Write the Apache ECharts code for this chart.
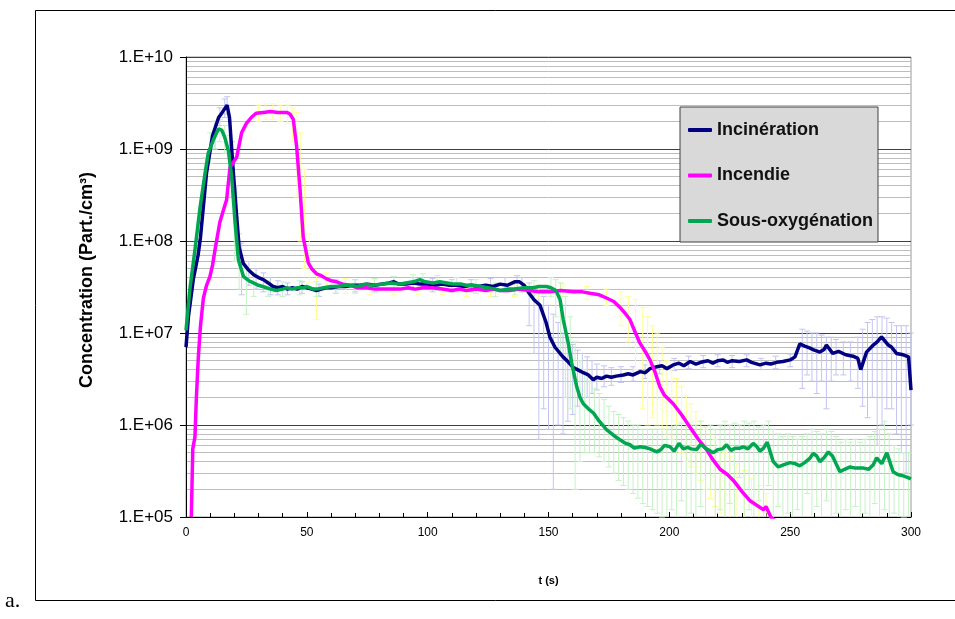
<!DOCTYPE html>
<html>
<head>
<meta charset="utf-8">
<script src="https://cdn.jsdelivr.net/npm/echarts@6/dist/echarts.min.js"></script>
<style>html,body{margin:0;padding:0;background:#fff}#c{width:955px;height:619px}</style>
</head>
<body>
<div id="c"></div>
<script>
// ---------- data ----------
const seriesNames = ['Incinération', 'Incendie', 'Sous-oxygénation'];
const xTicks = [0, 50, 100, 150, 200, 250, 300];
const yTicks = [1e5, 1e6, 1e7, 1e8, 1e9, 1e10];

const incinerationT = [0,1,3,5,6,8.5,11,13.5,15,17,18,19.5,21,22,23.7,26,28,30,32,34,36,38,40,42,44,46,48,50,52,54,56,58,60,63,66,69,72,75,78,81,84,86,88,91,94,97,100,103,106,109,112,115,118,121,124,127,130,133,136,138,140,142,144,146.5,149,150.6,152.7,156,158,160.3,162,164.4,166.5,168.5,170,172,174,176,178,181,183,185,188,190,192,194.8,197,199,201.6,204,206,208.6,211,213,216,218,220,222.3,224,226,229,232,234,237.5,240,242,244.4,247,250,252,254,256,258,260,262.3,264,265,267.6,270,273,276,278,279.2,281.6,284.4,286,287.8,290.6,292,294,296.8,299,300];
const incinerationC = [7.0e6,1.5e7,3.8e7,7e7,1.1e8,5.5e8,1.4e9,2.2e9,2.5e9,3.0e9,2.2e9,6e8,1.8e8,8.5e7,5.7e7,4.8e7,4.3e7,4.0e7,3.8e7,3.5e7,3.2e7,3.1e7,3.2e7,3.0e7,3.1e7,3.0e7,3.2e7,3.1e7,3.0e7,2.9e7,3.0e7,3.1e7,3.1e7,3.2e7,3.2e7,3.3e7,3.3e7,3.4e7,3.3e7,3.4e7,3.5e7,3.6e7,3.4e7,3.4e7,3.5e7,3.4e7,3.4e7,3.3e7,3.4e7,3.3e7,3.3e7,3.2e7,3.3e7,3.2e7,3.3e7,3.2e7,3.4e7,3.3e7,3.6e7,3.6e7,3.3e7,2.7e7,2.3e7,2.0e7,1.3e7,9e6,7e6,5.5e6,4.9e6,4.2e6,4.0e6,3.7e6,3.5e6,3.1e6,3.3e6,3.2e6,3.4e6,3.3e6,3.4e6,3.5e6,3.6e6,3.5e6,3.8e6,3.7e6,4.1e6,4.3e6,4.4e6,4.1e6,4.5e6,4.7e6,4.4e6,4.9e6,4.6e6,4.8e6,5.0e6,4.7e6,5.0e6,5.1e6,4.8e6,5.0e6,4.9e6,5.1e6,4.8e6,4.5e6,4.7e6,4.6e6,4.8e6,4.9e6,5.1e6,5.5e6,7.6e6,7.2e6,6.9e6,6.5e6,6.2e6,6.6e6,7.4e6,6.0e6,6.3e6,5.8e6,5.6e6,5.3e6,4.0e6,6.2e6,7.4e6,8.0e6,9.1e6,7.4e6,7.0e6,6.0e6,5.8e6,5.5e6,2.4e6];

const incendieT = [2.2,2.8,3.7,4.3,5.1,6,7.2,8.5,9.9,11,12,14,16,16.8,18.2,21,23,25,27,29,32,35,38,41.7,43,44.4,45.8,47.2,48.5,50.6,52,54,56,58,60,62.3,65,68,71,74.8,78,81,85,88.5,92,95,98,102,106,110,113,116,120,124,127,130,134,138,142,146,150.6,155,160.3,164,167.2,171,174,177,179.6,182,183.7,186,187.8,190,192,194,196.1,198,201.6,205,208.5,212,215.4,218,221,224,226.5,230,233.4,236,239,240,242,244];
const incendieC = [1.0e5,5.5e5,7.4e5,2e6,5.5e6,1.2e7,2.4e7,3.3e7,4.1e7,5.5e7,8e7,1.6e8,2.4e8,2.8e8,6.3e8,8.2e8,1.5e9,1.9e9,2.2e9,2.45e9,2.5e9,2.55e9,2.5e9,2.5e9,2.4e9,2.1e9,1.05e9,3.6e8,1.1e8,5.8e7,5e7,4.4e7,4.2e7,3.9e7,3.7e7,3.6e7,3.4e7,3.3e7,3.1e7,3.1e7,3.0e7,3.0e7,3.0e7,3.0e7,3.1e7,3.0e7,3.1e7,3.1e7,3.0e7,2.9e7,3.0e7,2.9e7,3.0e7,2.9e7,3.0e7,2.9e7,2.9e7,3.0e7,2.9e7,2.8e7,2.8e7,2.9e7,2.8e7,2.8e7,2.7e7,2.6e7,2.4e7,2.2e7,1.9e7,1.6e7,1.4e7,1.0e7,7.8e6,6.3e6,5.1e6,3.8e6,2.6e6,2.1e6,1.7e6,1.3e6,9.5e5,7e5,5.4e5,4.2e5,3.3e5,2.9e5,2.5e5,1.9e5,1.5e5,1.35e5,1.2e5,1.3e5,1.0e5,9e4];

const sousOxyT = [0,1.6,3.7,5.8,7.9,9.2,11.3,13.4,14.8,16,17.5,18.9,20.3,21.7,23.8,26,27.9,30,33.4,35,37.4,40,41.7,44,46,48.5,50,52.7,54,57,60,63,66,68,71,74,77,81.6,85,88,91,94,96.8,99,102.3,105,108,111,114,116,119,122,125,128,130,133,136,140,143.7,146,149.2,151,153.1,154.8,156.1,158.2,159.6,161.7,163,164.4,166.5,168.6,171,174,177,179.6,181.5,183.7,185.5,187.9,190,192,194.8,196.5,198,200.3,202,204,205.8,207.5,209,211.3,213,215,218.2,220,222,223.7,225.5,227.3,229.2,230.6,232.5,234.7,236,237.5,239,240.5,243,245.1,247.5,249.9,252,254,256,258,259.5,261,262.3,264,265.8,267.5,269,270.6,272.5,274.8,277,280.3,282.5,284.4,285.8,287.9,290,292.6,294.5,296.8,298.5,300];
const sousOxyC = [1.07e7,3e7,8e7,2.3e8,5.5e8,9e8,1.25e9,1.65e9,1.6e9,1.35e9,9.7e8,5e8,1.6e8,6.2e7,4.1e7,3.7e7,3.5e7,3.3e7,3.1e7,3.0e7,2.9e7,3.0e7,3.1e7,3.0e7,3.1e7,3.1e7,3.2e7,3.0e7,3.0e7,3.1e7,3.2e7,3.2e7,3.3e7,3.3e7,3.2e7,3.4e7,3.3e7,3.4e7,3.5e7,3.4e7,3.5e7,3.6e7,3.8e7,3.6e7,3.5e7,3.6e7,3.5e7,3.4e7,3.4e7,3.3e7,3.3e7,3.2e7,3.1e7,3.0e7,2.9e7,3.0e7,3.0e7,3.1e7,3.1e7,3.2e7,3.2e7,3.1e7,2.9e7,2.3e7,1.4e7,7.7e6,4.7e6,2.6e6,2.0e6,1.7e6,1.5e6,1.35e6,1.1e6,8.9e5,7.7e5,6.9e5,6.4e5,6.1e5,5.6e5,5.8e5,5.7e5,5.5e5,5.1e5,5.4e5,6.0e5,5.8e5,5.2e5,6.3e5,5.5e5,5.7e5,5.5e5,5.4e5,6.2e5,5.6e5,5.0e5,5.4e5,5.5e5,6.1e5,5.3e5,5.6e5,5.6e5,5.8e5,5.5e5,6.3e5,5.9e5,5.2e5,5.6e5,6.5e5,4.0e5,3.5e5,3.7e5,3.9e5,3.8e5,3.6e5,3.9e5,4.3e5,4.9e5,4.6e5,4.0e5,4.4e5,5.1e5,4.6e5,3.8e5,3.1e5,3.3e5,3.5e5,3.4e5,3.4e5,3.3e5,3.7e5,4.4e5,3.8e5,5.0e5,3.1e5,2.9e5,2.8e5,2.7e5,2.6e5];

// error bars: [t, low, high]
const incinerationErr = [[12,1.0e9,2.0e9],[14,1.8e9,2.8e9],[16,2.2e9,3.5e9],[17,2.4e9,3.7e9],[19,3e8,1.2e9],[21,8e7,4e8],[23,2.6e7,9.5e7],[26,3.3e7,6e7],[29,3e7,5e7],[32,2.8e7,4.5e7],[35,2.6e7,4e7],[38,2.6e7,3.7e7],[42,2.6e7,3.5e7],[48,2.7e7,3.6e7],[55,2.5e7,3.4e7],[62,2.7e7,3.7e7],[70,2.8e7,3.8e7],[78,2.8e7,3.9e7],[86,3.0e7,4.1e7],[94,2.9e7,4.0e7],[102,2.8e7,3.9e7],[110,2.8e7,3.8e7],[118,2.8e7,3.8e7],[126,2.8e7,3.9e7],[132,2.8e7,4.0e7],[137,3.0e7,4.2e7],[139,2.8e7,4.0e7],[142,1.2e7,3.5e7],[144,6e6,3.2e7],[146,7e5,2.8e7],[148,1.5e6,2.5e7],[150,9e5,2e7],[152,2e5,1.6e7],[154,1e6,1.3e7],[156,8e5,1e7],[158,1.1e6,9e6],[160,1.3e6,7.5e6],[162,1.6e6,6.5e6],[164,1.8e6,6e6],[166,2e6,5.5e6],[168,2.2e6,5e6],[170,2.4e6,4.6e6],[173,2.6e6,4.4e6],[176,2.7e6,4.2e6],[180,2.9e6,4.3e6],[185,3.0e6,4.3e6],[190,3.2e6,4.5e6],[196,3.6e6,5.0e6],[202,3.9e6,5.3e6],[208,4.1e6,5.6e6],[214,4.2e6,5.7e6],[220,4.3e6,5.8e6],[226,4.2e6,5.7e6],[232,4.3e6,5.8e6],[238,4.0e6,5.3e6],[244,4.1e6,5.6e6],[250,4.3e6,5.9e6],[255,2.5e6,1.1e7],[257,3.5e6,1.05e7],[259,3e6,1.0e7],[261,2.2e6,1.0e7],[263,3e6,9.5e6],[265,1.5e6,9e6],[267,3e6,9e6],[269,3.5e6,8.5e6],[272,3.5e6,8e6],[275,3e6,8e6],[278,2.5e6,9e6],[280,1.6e6,1.1e7],[282,1.2e6,1.3e7],[284,2e6,1.4e7],[286,6e5,1.5e7],[288,1e6,1.5e7],[290,1.5e6,1.45e7],[292,1.5e6,1.3e7],[294,8e5,1.2e7],[296,5e5,1.2e7],[298,3e5,1.2e7],[300,1e6,1.0e7]];
const incendieErr = [[30,2.0e9,3.0e9],[33,2.1e9,3.1e9],[36,2.1e9,3.1e9],[39,2.0e9,3.0e9],[42,1.9e9,3.0e9],[44,1.2e9,2.8e9],[46,3e8,2.5e9],[47.5,1e8,1.5e9],[49,5e7,6e8],[51,3.5e7,1.2e8],[54,1.4e7,4.5e7],[58,3e7,4.5e7],[66,2.7e7,3.9e7],[76,2.6e7,3.6e7],[86,2.6e7,3.5e7],[96,2.6e7,3.6e7],[106,2.6e7,3.5e7],[116,2.5e7,3.4e7],[126,2.5e7,3.4e7],[136,2.5e7,3.4e7],[146,2.4e7,3.3e7],[156,2.5e7,3.4e7],[166,2.3e7,3.2e7],[174,2.0e7,3.0e7],[180,1.2e7,2.8e7],[183,8e6,2.5e7],[186,4e6,2.3e7],[189,1.5e6,1.9e7],[191,1e6,1.5e7],[193,1.2e6,1.2e7],[195,1.0e6,1e7],[197,9e5,7e6],[199,8e5,5e6],[201,7e5,4e6],[203,6e5,3.2e6],[205,5e5,2.6e6],[207,4e5,2.1e6],[209,3.5e5,1.7e6],[211,3e5,1.4e6],[213,2.5e5,1.1e6],[215,2e5,9e5],[217,1.6e5,8e5],[219,1.3e5,7e5],[221,1.1e5,6e5],[223,9e4,5e5],[225,8e4,4.5e5],[228,7e4,3.8e5],[231,6e4,3.2e5],[234,5e4,2.6e5],[237,5e4,2.2e5],[240,5e4,1.8e5]];
const sousOxyErr = [[8,3e8,8e8],[10,7e8,1.5e9],[12,1e9,2e9],[14,1.2e9,2.1e9],[16,9e8,1.8e9],[18,4e8,1.4e9],[20,6e7,4e8],[22,3e7,1.2e8],[25,1.6e7,5e7],[28,2.5e7,4.5e7],[34,2.5e7,3.7e7],[40,2.5e7,3.6e7],[47,2.6e7,3.7e7],[54,2.5e7,3.6e7],[62,2.7e7,3.8e7],[70,2.7e7,3.8e7],[78,2.8e7,3.9e7],[86,2.9e7,4.1e7],[94,3.0e7,4.3e7],[98,3.1e7,4.4e7],[104,2.9e7,4.2e7],[112,2.8e7,4.0e7],[120,2.7e7,3.8e7],[128,2.5e7,3.5e7],[136,2.6e7,3.6e7],[144,2.6e7,3.7e7],[151,2.5e7,4e7],[153,1.5e7,3.8e7],[155,6e6,3.5e7],[157,2e6,2.5e7],[159,1.5e6,1.5e7],[161,2e5,8e6],[163,4e5,5e6],[165,5e5,4e6],[167,5e5,3e6],[169,5e5,2.5e6],[171,4.5e5,2.2e6],[173,4e5,1.9e6],[175,3.5e5,1.6e6],[177,3e5,1.4e6],[179,2.5e5,1.3e6],[181,2.2e5,1.2e6],[183,2e5,1.1e6],[185,1.8e5,1e6],[187,1.6e5,1e6],[189,1.4e5,9e5],[191,1.3e5,9e5],[193,1.2e5,9e5],[195,1.1e5,9e5],[197,1e5,9e5],[199,9e4,9e5],[201,1.2e5,9.5e5],[203,8e4,1.0e6],[205,1.5e5,1.05e6],[207,7e4,9.5e5],[209,1.1e5,1.0e6],[211,6e4,1.0e6],[213,1.3e5,1.1e6],[215,8e4,9.5e5],[217,2e5,1.0e6],[219,7e4,9e5],[221,1.2e5,1.0e6],[223,6e4,1.1e6],[225,1.4e5,1.0e6],[227,8e4,1.05e6],[229,2.7e5,1.0e6],[231,7e4,1.1e6],[233,1.2e5,1.05e6],[235,6e4,1.1e6],[237,1.5e5,9.5e5],[239,8e4,1.0e6],[241,2.2e5,1.1e6],[243,7e4,9e5],[245,1.3e5,8e5],[247,6e4,7.5e5],[249,1.1e5,8e5],[251,7e4,7.5e5],[253,1.2e5,7e5],[255,6e4,7.5e5],[257,1.8e5,8e5],[259,7e4,9e5],[261,1.3e5,8.5e5],[263,6e4,8e5],[265,1.5e5,9e5],[267,7e4,8.5e5],[269,1.1e5,7.5e5],[271,6e4,6.5e5],[273,1.2e5,7e5],[275,7e4,6.5e5],[277,1.3e5,7e5],[279,6e4,6.5e5],[281,1.1e5,7e5],[283,7e4,7.5e5],[285,1.4e5,8.5e5],[287,6e4,9e5],[289,1.2e5,1.1e6],[291,7e4,8e5],[293,1.1e5,6e5],[295,6e4,5.5e5],[297,1.0e5,5e5],[299,6e4,5e5]];

// ---------- build ----------
const zip = (t, c) => t.map((v, i) => [v, c[i]]);
const colors = ['#000080', '#ff00ff', '#00a650'];
const errColors = ['#c4c4f4', '#ffff90', '#c6f2c6'];
const minorGrid = [];
for (let e = 5; e < 10; e++) for (let m = 2; m <= 9; m++) minorGrid.push(m * Math.pow(10, e));

function errRender(params, api) {
  const x = api.value(0), lo = api.value(1), hi = api.value(2);
  const pHi = api.coord([x, hi]), pLo = api.coord([x, lo]);
  const cs = params.coordSys;
  const top = cs.y, bot = cs.y + cs.height;
  const y1 = Math.max(pHi[1], top), y2 = Math.min(pLo[1], bot);
  const st = { stroke: api.visual('color'), lineWidth: 1 };
  const ch = [{ type: 'line', shape: { x1: pHi[0], y1: y1, x2: pHi[0], y2: y2 }, style: st }];
  if (pHi[1] >= top) ch.push({ type: 'line', shape: { x1: pHi[0] - 3, y1: pHi[1], x2: pHi[0] + 3, y2: pHi[1] }, style: st });
  if (pLo[1] <= bot) ch.push({ type: 'line', shape: { x1: pLo[0] - 3, y1: pLo[1], x2: pLo[0] + 3, y2: pLo[1] }, style: st });
  return { type: 'group', children: ch };
}

const errData = [incinerationErr, incendieErr, sousOxyErr];
const lineData = [zip(incinerationT, incinerationC), zip(incendieT, incendieC), zip(sousOxyT, sousOxyC)];

const series = [];
errData.forEach((d, i) => {
  series.push({
    type: 'custom', name: seriesNames[i] + ' err', data: d, renderItem: errRender,
    itemStyle: { color: errColors[i] }, z: 1, silent: true, animation: false,
    encode: { x: 0, y: [1, 2] }
  });
});
lineData.forEach((d, i) => {
  const s = {
    type: 'line', name: seriesNames[i], data: d, showSymbol: false, symbol: 'none',
    lineStyle: { color: colors[i], width: 3.5 }, itemStyle: { color: colors[i] },
    z: 3, animation: false, clip: true
  };
  if (i === 0) {
    s.markLine = {
      silent: true, symbol: ['none', 'none'], label: { show: false }, animation: false, z: 0,
      lineStyle: { color: '#bdbdbd', width: 1, type: 'solid' },
      data: minorGrid.map(v => ({ yAxis: v }))
    };
  }
  series.push(s);
});

const chart = echarts.init(document.getElementById('c'), null, { renderer: 'canvas' });
chart.setOption({
  backgroundColor: '#fff',
  animation: false,
  grid: { left: 186, top: 57, right: 44, bottom: 102, show: true, borderColor: '#9a9a9a', borderWidth: 1 },
  legend: {
    data: seriesNames, orient: 'vertical', left: 680, top: 107,
    backgroundColor: '#d9d9d9', borderColor: '#404040', borderWidth: 1,
    padding: [14, 5, 12, 8], itemGap: 27.5, itemWidth: 24, itemHeight: 4, icon: 'roundRect',
    textStyle: { fontFamily: 'Liberation Sans, Arial, sans-serif', fontWeight: 'bold', fontSize: 18, color: '#111' }
  },
  xAxis: {
    type: 'value', min: xTicks[0], max: xTicks[xTicks.length - 1], interval: 50,
    name: 't (s)', nameLocation: 'middle', nameGap: 58,
    nameTextStyle: { fontFamily: 'Liberation Sans Narrow, Liberation Sans, sans-serif', fontWeight: 'bold', fontSize: 11, color: '#000' },
    axisLine: { show: true, onZero: false, lineStyle: { color: '#000', width: 1 } },
    axisTick: { show: true, inside: true, length: 5, lineStyle: { color: '#000' } },
    minorTick: { show: true, splitNumber: 5, length: 4, lineStyle: { color: '#000' } },
    splitLine: { show: false },
    axisLabel: { fontFamily: 'Liberation Sans Narrow, Liberation Sans, sans-serif', fontSize: 12, color: '#000', margin: 10 }
  },
  yAxis: {
    type: 'log', logBase: 10, min: yTicks[0], max: yTicks[yTicks.length - 1],
    name: 'Concentration (Part./cm³)', nameLocation: 'middle', nameGap: 90, nameRotate: 90,
    nameTextStyle: { fontFamily: 'Liberation Sans, Arial, sans-serif', fontWeight: 'bold', fontSize: 18, color: '#000', padding: [0, 0, 0, 14] },
    axisLine: { show: true, lineStyle: { color: '#000', width: 1 } },
    axisTick: { show: true, inside: false, length: 6, lineStyle: { color: '#000' } },
    splitLine: { show: true, lineStyle: { color: '#404040', width: 1 } },
    axisLabel: {
      fontFamily: 'Liberation Sans, Arial, sans-serif', fontSize: 17, color: '#000', margin: 13,
      formatter: v => '1.E+' + String(Math.round(Math.log10(v))).padStart(2, '0')
    }
  },
  graphic: [
    { type: 'line', shape: { x1: 35.5, y1: 10.5, x2: 955, y2: 10.5 }, style: { stroke: '#000', lineWidth: 1 }, z: 100 },
    { type: 'line', shape: { x1: 35.5, y1: 10.5, x2: 35.5, y2: 600.5 }, style: { stroke: '#000', lineWidth: 1 }, z: 100 },
    { type: 'line', shape: { x1: 35.5, y1: 600.5, x2: 955, y2: 600.5 }, style: { stroke: '#000', lineWidth: 1 }, z: 100 },
    { type: 'text', left: 5, top: 590, style: { text: 'a.', font: '22px "Liberation Serif", "Times New Roman", serif', fill: '#000' } }
  ],
  series: series
});
</script>
</body>
</html>
